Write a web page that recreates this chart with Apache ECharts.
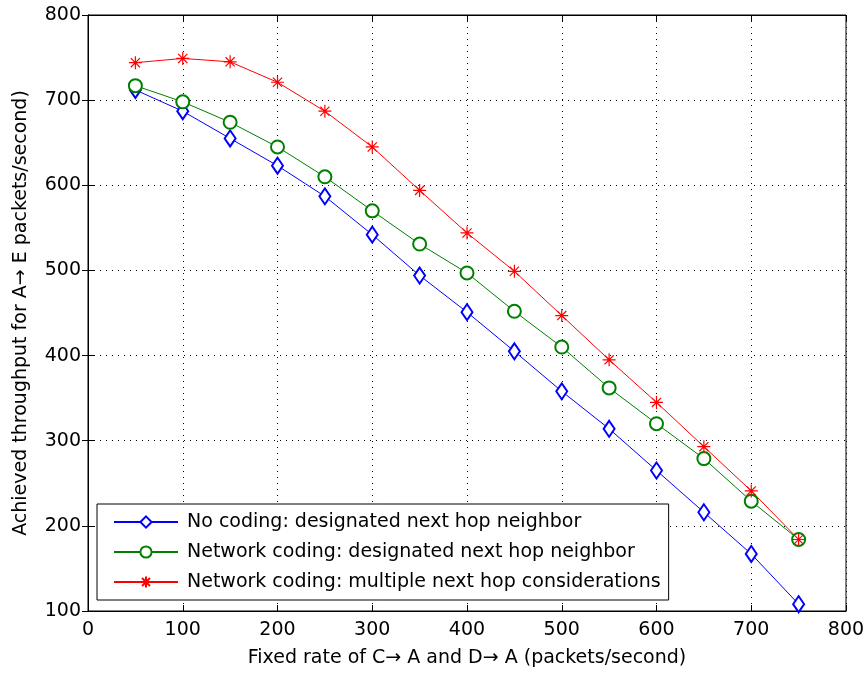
<!DOCTYPE html>
<html>
<head>
<meta charset="utf-8">
<script src="https://cdn.jsdelivr.net/npm/echarts@6/dist/echarts.min.js"></script>
<style>html,body{margin:0;padding:0;background:#fff}#c{width:868px;height:673px}</style>
</head>
<body>
<div id="c"></div>
<script>
var rates = [50,100,150,200,250,300,350,400,450,500,550,600,650,700,750];
var noCoding = [712,687,655,623,587,542,494,451,405,358,314,265,216,167,108];
var ncDesignated = [717,698,674,645,610,570,531,497,452,410,362,320,279,229,184];
var ncMultiple = [744,749,745,721,687,645,594,544,499,447,395,345,293,241,184];
var seriesNames = [
  'No coding: designated next hop neighbor',
  'Network coding: designated next hop neighbor',
  'Network coding: multiple next hop considerations'
];
var xTicks = [0,100,200,300,400,500,600,700,800];
var yTicks = [100,200,300,400,500,600,700,800];

function pairs(v){ return rates.map(function(x,i){ return [x, v[i]]; }); }
var FONT = '"DejaVu Sans", sans-serif';
var FS = 19;
var star = 'path://M0,-10L0,10M-10,0L10,0M-7.07,-7.07L7.07,7.07M-7.07,7.07L7.07,-7.07';

var chart = echarts.init(document.getElementById('c'));
var axisLine = {show: true, lineStyle: {color: '#000', width: 1}};
var axisTick = {show: true, inside: true, length: 6, lineStyle: {color: '#000'}};
chart.setOption({
  animation: false,
  backgroundColor: '#fff',
  grid: {left: 88, right: 22, top: 15, bottom: 60, show: true, borderColor: '#000', borderWidth: 1},
  xAxis: [{
    type: 'value', min: xTicks[0], max: xTicks[xTicks.length-1], interval: 100,
    name: 'Fixed rate of C\u2192 A and D\u2192 A (packets/second)',
    nameLocation: 'middle', nameGap: 38,
    nameTextStyle: {fontFamily: FONT, fontSize: FS, color: '#000'},
    axisLabel: {fontFamily: FONT, fontSize: FS, color: '#000', margin: 10},
    splitLine: {show: true, lineStyle: {type: [1, 5], color: '#000', width: 1}},
    axisLine: axisLine, axisTick: axisTick
  }, {
    type: 'value', position: 'top', min: 0, max: 800, interval: 100,
    axisLabel: {show: false}, splitLine: {show: false},
    axisLine: axisLine, axisTick: axisTick
  }],
  yAxis: [{
    type: 'value', min: yTicks[0], max: yTicks[yTicks.length-1], interval: 100,
    name: 'Achieved throughput for A\u2192 E packets/second)',
    nameLocation: 'middle', nameGap: 57, nameRotate: 90,
    nameTextStyle: {fontFamily: FONT, fontSize: FS, color: '#000'},
    axisLabel: {fontFamily: FONT, fontSize: FS, color: '#000', margin: 7},
    splitLine: {show: true, lineStyle: {type: [1, 5], color: '#000', width: 1}},
    axisLine: axisLine, axisTick: axisTick
  }, {
    type: 'value', position: 'right', min: 100, max: 800, interval: 100,
    axisLabel: {show: false}, splitLine: {show: false},
    axisLine: axisLine, axisTick: axisTick
  }],
  legend: {
    orient: 'vertical', left: 97, top: 504,
    data: seriesNames,
    itemWidth: 64, itemHeight: 14, itemGap: 10,
    padding: [8, 8, 8, 16],
    backgroundColor: '#fff', borderColor: '#000', borderWidth: 1, borderRadius: 0,
    textStyle: {fontFamily: FONT, fontSize: FS, color: '#000', lineHeight: 20, padding: [0, 0, 0, 4]}
  },
  series: [{
    name: seriesNames[0], type: 'line', data: pairs(noCoding),
    symbol: 'emptyDiamond', symbolSize: [11, 16],
    lineStyle: {color: '#0000ff', width: 1},
    itemStyle: {color: '#0000ff', borderColor: '#0000ff', borderWidth: 1}
  }, {
    name: seriesNames[1], type: 'line', data: pairs(ncDesignated),
    symbol: 'emptyCircle', symbolSize: 13,
    lineStyle: {color: '#008000', width: 1},
    itemStyle: {color: '#008000', borderColor: '#008000', borderWidth: 1}
  }, {
    name: seriesNames[2], type: 'line', data: pairs(ncMultiple),
    symbol: star, symbolSize: 13,
    lineStyle: {color: '#ff0000', width: 1},
    itemStyle: {color: '#ff0000', borderColor: '#ff0000', borderWidth: 1.2}
  }]
});
</script>
</body>
</html>
